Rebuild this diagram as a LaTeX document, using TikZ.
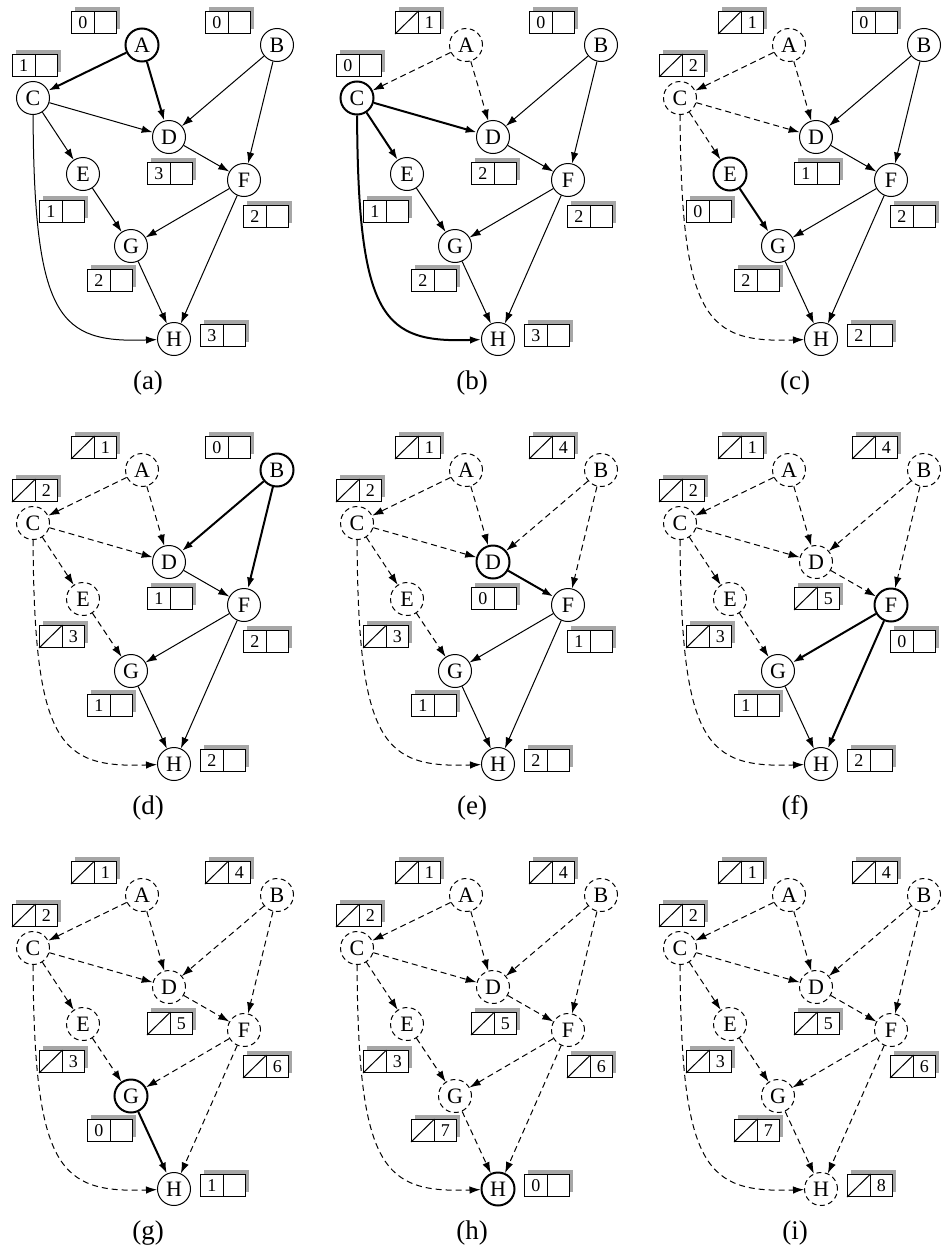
\documentclass[tikz,border=0pt]{standalone}
\usepackage{fontspec}
\setmainfont{Liberation Serif}
\usetikzlibrary{arrows.meta}
\tikzset{
  vtx/.style={circle, draw, line width=1pt, minimum size=33pt, inner sep=0pt, font=\fontsize{22pt}{22pt}\selectfont, fill=white},
  vdone/.style={dash pattern=on 5pt off 3.5pt},
  vcur/.style={line width=2pt},
  vst/.code 2 args={\ifnum#1<#2\relax\pgfkeysalso{/tikz/vdone}\else\ifnum#1=#2\relax\pgfkeysalso{/tikz/vcur}\fi\fi},
  ed/.style={-{Latex[length=11pt,width=7.5pt]}, line width=1pt},
  edone/.style={dash pattern=on 6pt off 4pt},
  ecur/.style={line width=2pt},
  est/.code 2 args={\ifnum#1<#2\relax\pgfkeysalso{/tikz/edone}\else\ifnum#1=#2\relax\pgfkeysalso{/tikz/ecur}\fi\fi},
  cell/.style={draw, line width=1pt, minimum width=22.5pt, minimum height=22pt, inner sep=0pt, anchor=north west, fill=white, font=\fontsize{18pt}{18pt}\selectfont},
  shad/.style={fill=black!35},
  caplabel/.style={font=\fontsize{27pt}{27pt}\selectfont}
}
\newcommand\drawpanel[5]{%
\begin{scope}[shift={(#2,#3)}]
  \foreach \nm/\ord/\px/\py in {A/1/142/45, B/4/277/45, C/2/33/98, D/5/169/137, E/3/83/174, F/6/244/180, G/7/131/246, H/8/174/339}{
    \node[vtx, vst={\ord}{#4}] (#1\nm) at (\px,\py) {\nm};
  }
  \foreach \s/\t/\so in {A/C/1, A/D/1, B/D/4, B/F/4, C/D/2, C/E/2, D/F/5, E/G/3, F/G/6, F/H/6, G/H/7}{
    \draw[ed, est={\so}{#4}] (#1\s) -- (#1\t);
  }
  \draw[ed, est={2}{#4}] (#1C) .. controls +(1,222) and +(-114,4) .. (#1H);
  \foreach \nm/\ord/\bx/\by [count=\i] in {A/1/71/11, B/4/205/11, C/2/12/54, D/5/147/162, E/3/39/200, F/6/243/205, G/7/87/269, H/8/200/324}{
    \fill[shad] (\bx+4,\by-4) rectangle (\bx+49,\by+18);
    \ifnum\ord<#4\relax
      \node[cell] (#1\nm l) at (\bx,\by) {};
      \node[cell] (#1\nm r) at (\bx+22.5,\by) {\ord};
      \draw[line width=1pt] (#1\nm l.south west) -- (#1\nm l.north east);
    \else
      \pgfmathtruncatemacro\cnt{{#5}[\i-1]}
      \node[cell] (#1\nm l) at (\bx,\by) {\cnt};
      \node[cell] (#1\nm r) at (\bx+22.5,\by) {};
    \fi
  }
  \node[caplabel] (#1cap) at (148,383) {(#1)};
\end{scope}
}
\begin{document}
\begin{tikzpicture}[x=1pt, y=-1pt]
\useasboundingbox (0,0) rectangle (942,1250);
\drawpanel{a}{0}{0}{1}{0,0,1,3,1,2,2,3}
\drawpanel{b}{324}{0}{2}{0,0,0,2,1,2,2,3}
\drawpanel{c}{647}{0}{3}{0,0,0,1,0,2,2,2}
\drawpanel{d}{0}{425}{4}{0,0,0,1,0,2,1,2}
\drawpanel{e}{324}{425}{5}{0,0,0,0,0,1,1,2}
\drawpanel{f}{647}{425}{6}{0,0,0,0,0,0,1,2}
\drawpanel{g}{0}{850}{7}{0,0,0,0,0,0,0,1}
\drawpanel{h}{324}{850}{8}{0,0,0,0,0,0,0,0}
\drawpanel{i}{647}{850}{9}{0,0,0,0,0,0,0,0}
\end{tikzpicture}
\end{document}
